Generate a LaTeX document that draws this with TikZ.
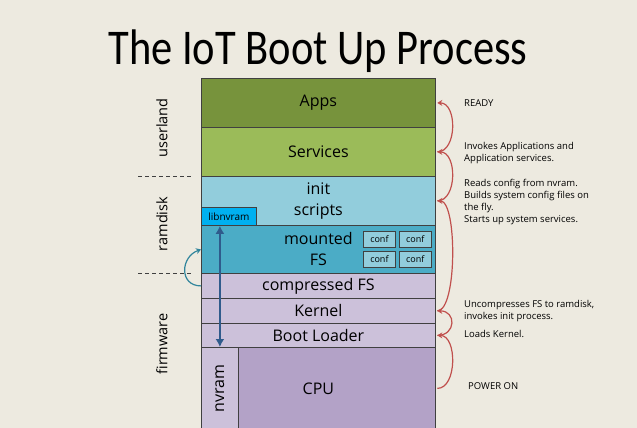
\documentclass[tikz,border=0pt]{standalone}
\usepackage{fontspec}
\setmainfont{Open Sans}
\newfontfamily\titlefont{Carlito}
\usetikzlibrary{positioning,arrows.meta}

\definecolor{bgcol}{HTML}{EDEAE0}
\definecolor{appscol}{HTML}{77933C}
\definecolor{servcol}{HTML}{9BBB59}
\definecolor{initcol}{HTML}{92CDDC}
\definecolor{mountcol}{HTML}{4BACC6}
\definecolor{libcol}{HTML}{00B0F0}
\definecolor{fwcol}{HTML}{CCC1DA}
\definecolor{cpucol}{HTML}{B3A2C7}
\definecolor{edgecol}{HTML}{404040}
\definecolor{arccol}{HTML}{C0504D}
\definecolor{tealcol}{HTML}{31859C}
\definecolor{nvcol}{HTML}{2F5B8C}

\tikzset{
	layer/.style={draw=edgecol, line width=0.8pt, minimum width=234pt, anchor=north west,
		inner sep=0pt, align=center, font=\fontsize{16}{21}\selectfont},
	confbox/.style={draw=edgecol, fill=initcol, line width=0.8pt, minimum width=32pt,
		minimum height=16pt, inner sep=0pt, font=\fontsize{9}{10}\selectfont},
	side/.style={rotate=90, font=\fontsize{14.5}{16}\selectfont},
	note/.style={anchor=north west, align=left, inner sep=0pt, font=\fontsize{9.5}{12}\selectfont},
	bootarc/.style={draw=arccol, line width=1.2pt, -{Stealth[length=5pt,width=6pt]}},
}

\begin{document}
\begin{tikzpicture}[x=1pt, y=-1pt]
		% 0. 背景和边界
		\fill[bgcol] (0,0) rectangle (637,428);
		\useasboundingbox (0,0) rectangle (637,428);
		
		% 1. 标题
		\node[anchor=base, font=\titlefont\fontsize{50}{60}\selectfont] (title) at (318,65) {\scalebox{0.85}[1]{The IoT Boot Up Process}};
		
		% 2. 各层方块（自上而下）
		\node[layer, fill=appscol, minimum height=49pt] (apps) at (201,78) {Apps};
		\node[layer, fill=servcol, minimum height=49pt] (services) at (201,127) {Services};
		\node[layer, fill=initcol, minimum height=49pt] (init) at (201,176) {init\\scripts};
		\node[layer, fill=mountcol, minimum height=48pt] (mounted) at (201,225) {mounted\\FS};
		\node[layer, fill=fwcol, minimum height=25pt] (compressed) at (201,273) {compressed FS};
		\node[layer, fill=fwcol, minimum height=25pt] (kernel) at (201,298) {Kernel};
		\node[layer, fill=fwcol, minimum height=24pt] (boot) at (201,323) {Boot Loader};
		\node[layer, fill=cpucol, minimum height=82pt] (cpu) at (201,347) {CPU};
		
		% nvram 盖在 CPU 左边
		\node[layer, fill=fwcol, minimum width=37pt, minimum height=82pt] (nvram) at (201,347) {\rotatebox{90}{nvram}};
		
		% libnvram 和 conf 小方块
		\node[layer, fill=libcol, minimum width=55pt, minimum height=18pt, font=\fontsize{10}{11}\selectfont] (libnvram) at (201,207) {libnvram};
		\node[confbox, anchor=north west] (conf1) at (363,231) {conf};
		\node[confbox, right=3pt of conf1] (conf2) {conf};
		\node[confbox, below=3pt of conf1] (conf3) {conf};
		\node[confbox, right=3pt of conf3] (conf4) {conf};
		
		% 3. 左侧分区标签和虚线
		\node[side] (userland) at (162,128) {userland};
		\node[side] (ramdisk) at (162,224) {ramdisk};
		\node[side] (firmware) at (162,344) {firmware};
		\draw[edgecol, dash pattern=on 4pt off 3pt] ([xshift=-63pt]init.north west) -- ([xshift=-9pt]init.north west);
		\draw[edgecol, dash pattern=on 4pt off 3pt] ([xshift=-63pt]compressed.north west) -- ([xshift=-9pt]compressed.north west);
		
		% 4. 箭头
		% 解压：compressed FS -> mounted FS
		\draw[tealcol, line width=1.2pt, -{Stealth[length=5pt,width=6pt]}] (compressed.west) to[out=180, in=200, distance=22pt] (mounted.west);
		% nvram <-> libnvram
		\draw[nvcol, line width=2pt, {Latex[length=8pt,width=9pt]}-{Latex[length=8pt,width=9pt]}] (nvram.north) -- (nvram.north |- libnvram.south);
		% 右侧启动顺序
		\draw[bootarc] ([xshift=1.5pt]cpu.east) to[out=0, in=0, distance=20pt] ([xshift=1.5pt]boot.east);
		\draw[bootarc] ([xshift=1.5pt]boot.east) to[out=0, in=0, distance=19pt] ([xshift=1.5pt]kernel.east);
		\draw[bootarc] ([xshift=1.5pt]kernel.east) to[out=0, in=0, distance=20pt] ([xshift=1.5pt]init.east);
		\draw[bootarc] ([xshift=1.5pt]init.east) to[out=0, in=0, distance=20pt] ([xshift=1.5pt]services.east);
		\draw[bootarc] ([xshift=1.5pt]services.east) to[out=0, in=0, distance=20pt] ([xshift=1.5pt]apps.east);
		
		% 5. 右侧说明文字
		\node[note] (ready) at (464,99) {READY};
		\node[note] (invokes) at (464,142) {Invokes Applications and\\Application services.};
		\node[note] (reads) at (464,179) {Reads config from nvram.\\Builds system config files on\\the fly.\\Starts up system services.};
		\node[note] (uncomp) at (464,300) {Uncompresses FS to ramdisk,\\invokes init process.};
		\node[note] (loads) at (464,330) {Loads Kernel.};
		\node[note] (poweron) at (468,382) {POWER ON};
\end{tikzpicture}
\end{document}
